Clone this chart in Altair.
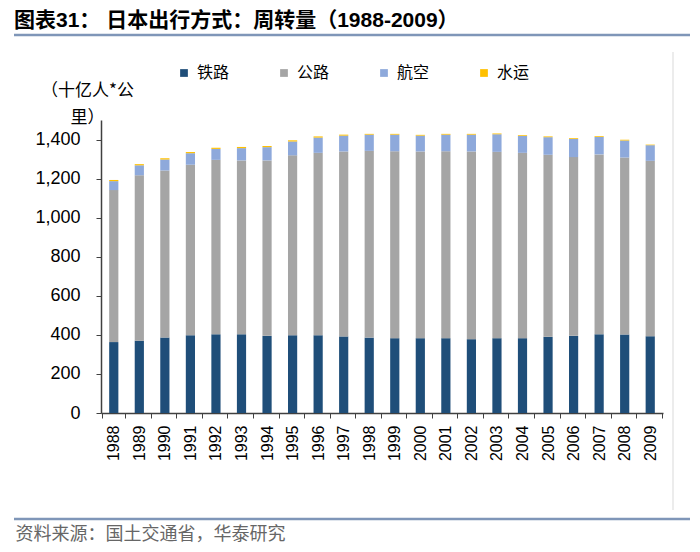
import altair as alt
import pandas as pd

years = [str(y) for y in range(1988, 2010)]
rail = [363, 370, 386, 398, 403, 403, 395, 398, 398, 392, 386, 383, 383, 383, 378, 383, 383, 390, 395, 403, 402, 393]
road = [778, 847, 855, 873, 893, 890, 898, 921, 934, 947, 956, 957, 956, 957, 961, 954, 949, 932, 915, 921, 906, 898]
air = [46, 51, 57, 59, 56, 63, 68, 71, 78, 81, 83, 85, 81, 85, 86, 90, 86, 90, 93, 89, 87, 80]
water = [6, 6, 6, 6, 6, 6, 6, 6, 6, 5, 4, 4, 4, 4, 4, 4, 4, 4, 4, 4, 4, 3]

modes = ["铁路", "公路", "航空", "水运"]
colors = ["#1F4E79", "#A5A5A5", "#8EA9DB", "#FFC000"]
series = [rail, road, air, water]
title_text = "图表31：   日本出行方式：周转量（1988-2009）"

rows = []
for k, (m, vals) in enumerate(zip(modes, series)):
    for y, v in zip(years, vals):
        rows.append({"year": y, "mode": m, "value": v, "order": k})
df = pd.DataFrame(rows)

CJK = "'Noto Sans CJK SC', sans-serif"
NUM = "'Liberation Sans', Arial, 'Noto Sans CJK SC', sans-serif"

bars = alt.Chart(df).mark_bar(width=alt.RelativeBandSize(0.4)).encode(
    x=alt.X("year:N", sort=years,
            axis=alt.Axis(title="资料来源：国土交通省，华泰研究", labelAngle=-90,
                          labelFont=NUM, labelFontSize=16, labelColor="#000000",
                          labelAlign="right", labelBaseline="middle", labelPadding=7,
                          tickBand="extent", tickSize=5, tickColor="#404040",
                          domainColor="#404040", domainWidth=1.5,
                          titleFont=CJK, titleFontSize=18, titleFontWeight="normal",
                          titleColor="#666666", titleAnchor="start", titleAlign="left",
                          titleX=-86, titleY=126, titleBaseline="alphabetic")),
    y=alt.Y("value:Q", stack="zero",
            scale=alt.Scale(domain=[0, 1500], nice=False),
            axis=alt.Axis(title=["（十亿人*公", "里）"], titleAngle=0,
                          titleFont=CJK, titleFontSize=17, titleFontWeight="normal",
                          titleColor="#000000", titleAlign="center",
                          titleX=-14, titleY=-25, titleBaseline="alphabetic",
                          titleLineHeight=27,
                          values=list(range(0, 1401, 200)), format=",.0f",
                          labelFont=NUM, labelFontSize=18, labelColor="#000000",
                          grid=False, tickSize=5, tickColor="#404040",
                          domainColor="#404040", domainWidth=1.5, labelPadding=16)),
    color=alt.Color("mode:N", sort=modes,
                    scale=alt.Scale(domain=modes, range=colors),
                    legend=alt.Legend(title=None, orient="none", direction="horizontal",
                                      legendX=75, legendY=-55, symbolType="square",
                                      symbolSize=60, symbolStrokeWidth=0,
                                      labelFont=CJK, labelFontSize=16,
                                      labelColor="#000000", labelOffset=5,
                                      columnPadding=46, columns=4)),
    order=alt.Order("order:Q"),
)

one = pd.DataFrame({"t": [title_text]})
title_mark = alt.Chart(one).mark_text(
    align="left", baseline="alphabetic", fontSize=21, fontWeight="bold",
    font=NUM, color="#000000").encode(
    x=alt.value(-87), y=alt.value(-93), text="t:N")

top_line = alt.Chart(one).mark_rule(color="#7F96B8", strokeWidth=2.5).encode(
    x=alt.value(-87), x2=alt.value(589), y=alt.value(-85))
bottom_line = alt.Chart(one).mark_rule(color="#7F96B8", strokeWidth=2.5).encode(
    x=alt.value(-87), x2=alt.value(589), y=alt.value(399))
border = alt.Chart(one).mark_rule(color="#D9D9D9", strokeWidth=1).encode(
    x=alt.value(572), y=alt.value(-68), y2=alt.value(390))

chart = alt.layer(bars, title_mark, top_line, bottom_line, border).properties(
    width=562, height=293,
    padding={"left": 93, "top": 112, "right": 29, "bottom": 136},
    autosize=alt.AutoSizeParams(type="none"),
).configure_view(stroke=None)

chart.save("out.html", embed_options={"renderer": "svg", "actions": False})
